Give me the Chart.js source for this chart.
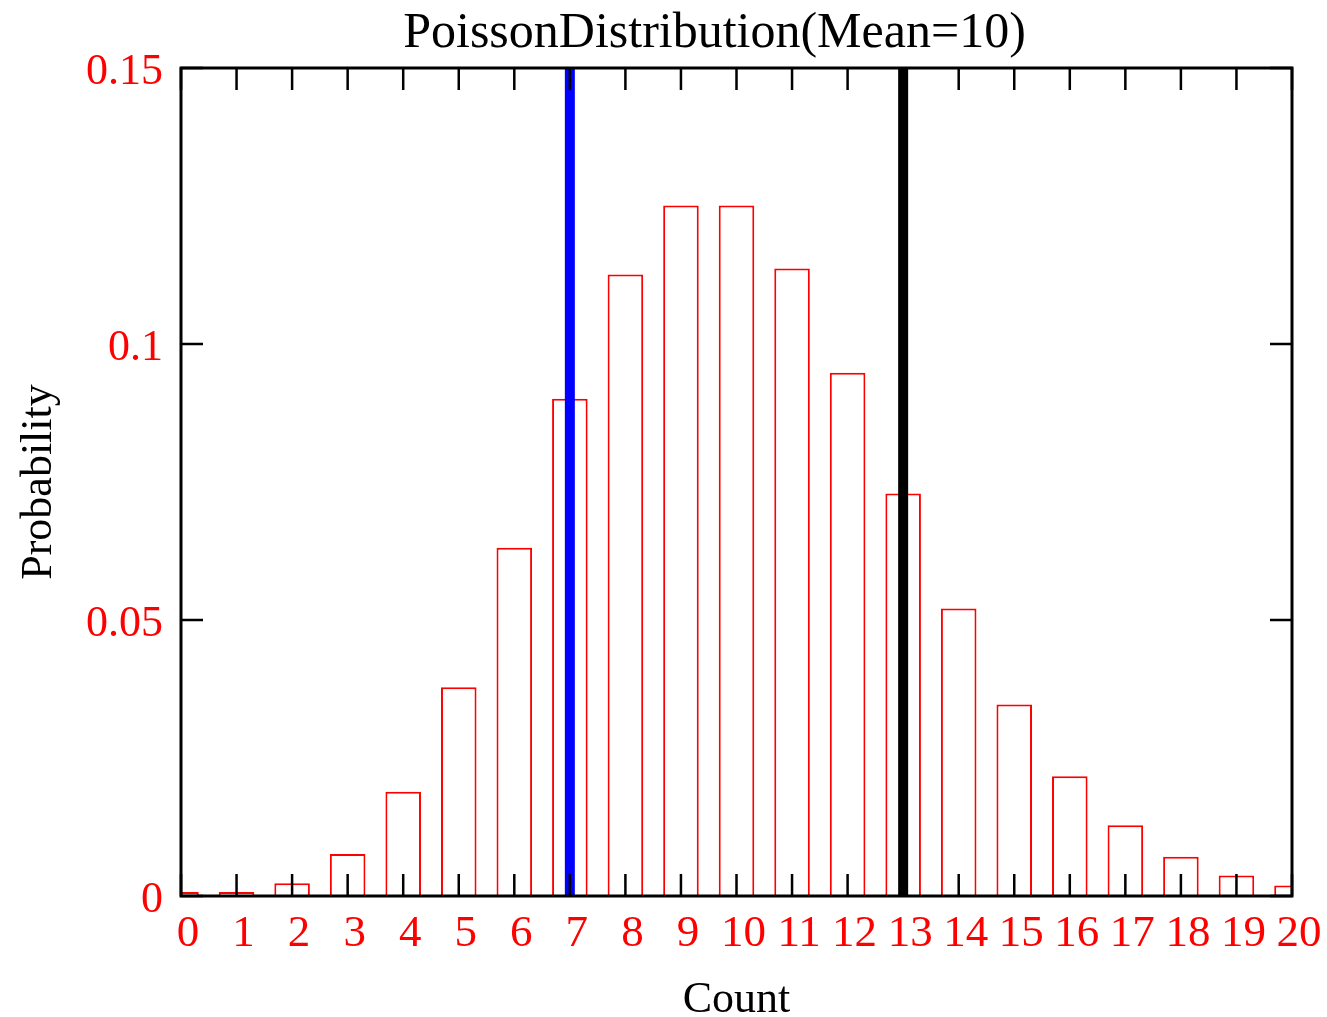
<!DOCTYPE html>
<html>
<head>
<meta charset="utf-8">
<script src="https://cdn.jsdelivr.net/npm/chart.js@4/dist/chart.umd.min.js"></script>
<style>
  html, body { margin: 0; padding: 0; background: #fff; }
  #wrap { width: 1327px; height: 1017px; }
</style>
</head>
<body>
<div id="wrap"><canvas id="myChart"></canvas></div>
<script>
var counts = [0, 1, 2, 3, 4, 5, 6, 7, 8, 9, 10, 11, 12, 13, 14, 15, 16, 17, 18, 19, 20];
var probs = [0.00005, 0.00045, 0.0023, 0.0076, 0.0189, 0.0378, 0.0631, 0.0901, 0.1126, 0.1251, 0.1251,
             0.1137, 0.0948, 0.0729, 0.0521, 0.0347, 0.0217, 0.0128, 0.0071, 0.0037, 0.0019];
var xTicks = [0, 1, 2, 3, 4, 5, 6, 7, 8, 9, 10, 11, 12, 13, 14, 15, 16, 17, 18, 19, 20];
var yTicks = [0, 0.05, 0.1, 0.15];
var yTickLabels = ['0', '0.05', '0.1', '0.15'];
var lowerMark = 7;
var upperMark = 13;
var titleText = 'PoissonDistribution(Mean=10)';

var serif = '"Liberation Serif", "Times New Roman", serif';

var barData = counts.map(function (c, i) { return { x: c, y: probs[i] }; });

// frame + inward ticks on all four sides, plus the title
var framePlugin = {
  id: 'frame',
  afterDraw: function (chart) {
    var c = chart.ctx, a = chart.chartArea;
    var xs = chart.scales.x, ys = chart.scales.y;
    var tl = 22;
    c.save();
    c.strokeStyle = '#000';
    c.lineWidth = 2.5;
    c.beginPath();
    xTicks.forEach(function (v) {
      var px = xs.getPixelForValue(v);
      c.moveTo(px, a.bottom); c.lineTo(px, a.bottom - tl);
      c.moveTo(px, a.top); c.lineTo(px, a.top + tl);
    });
    yTicks.forEach(function (v) {
      var py = ys.getPixelForValue(v);
      c.moveTo(a.left, py); c.lineTo(a.left + tl, py);
      c.moveTo(a.right, py); c.lineTo(a.right - tl, py);
    });
    c.stroke();
    c.lineWidth = 3;
    c.strokeRect(a.left, a.top, a.right - a.left, a.bottom - a.top);

    c.fillStyle = '#000';
    c.font = '50px ' + serif;
    c.textAlign = 'center';
    c.textBaseline = 'alphabetic';
    c.fillText(titleText, (a.left + a.right) / 2 - 22, 47);
    c.restore();
  }
};

var ctx = document.getElementById('myChart');

var myChart = new Chart(ctx, {
  type: 'bar',
  data: {
    datasets: [{
      type: 'line',
      data: [{ x: lowerMark, y: 0 }, { x: lowerMark, y: 0.15 }],
      borderColor: '#0000ff',
      borderWidth: 10,
      borderCapStyle: 'butt',
      pointRadius: 0,
      order: 1,
      clip: 0
    }, {
      type: 'line',
      data: [{ x: upperMark, y: 0 }, { x: upperMark, y: 0.15 }],
      borderColor: '#000000',
      borderWidth: 10,
      borderCapStyle: 'butt',
      pointRadius: 0,
      order: 1,
      clip: 0
    }, {
      label: 'Probability',
      data: barData,
      backgroundColor: '#ffffff',
      borderColor: '#ff0000',
      borderWidth: 2,
      borderSkipped: 'start',
      minBarLength: 4,
      barPercentage: 0.64,
      categoryPercentage: 1,
      order: 2,
      clip: 0
    }]
  },
  options: {
    responsive: true,
    maintainAspectRatio: false,
    animation: false,
    layout: { padding: { top: 68, right: 35, left: 0, bottom: 0 } },
    plugins: {
      legend: { display: false },
      title: { display: false },
      tooltip: { enabled: false }
    },
    scales: {
      x: {
        type: 'linear',
        min: 0,
        max: 20,
        offset: false,
        grid: { display: false, drawTicks: false },
        border: { display: false },
        afterBuildTicks: function (scale) {
          scale.ticks = xTicks.map(function (v) { return { value: v }; });
        },
        afterFit: function (scale) { scale.height = 121; },
        ticks: {
          autoSkip: false,
          maxRotation: 0,
          padding: 11,
          labelOffset: 7,
          color: '#ff0000',
          font: { family: serif, size: 45 },
          callback: function (v) { return String(v); }
        },
        title: {
          display: true,
          text: 'Count',
          color: '#000',
          font: { family: serif, size: 44, lineHeight: 1 },
          padding: { top: 0, bottom: -5 }
        }
      },
      y: {
        min: 0,
        max: 0.15,
        grid: { display: false, drawTicks: false },
        border: { display: false },
        afterBuildTicks: function (scale) {
          scale.ticks = yTicks.map(function (v) { return { value: v }; });
        },
        afterFit: function (scale) { scale.width = 181; },
        ticks: {
          padding: 18,
          labelOffset: 4,
          color: '#ff0000',
          font: { family: serif, size: 44 },
          callback: function (v) {
            var i = yTicks.indexOf(v);
            return i >= 0 ? yTickLabels[i] : '';
          }
        },
        title: {
          display: true,
          text: 'Probability',
          color: '#000',
          font: { family: serif, size: 44, lineHeight: 1 },
          padding: { top: 17, bottom: 0 }
        }
      }
    }
  },
  plugins: [framePlugin]
});
</script>
</body>
</html>
